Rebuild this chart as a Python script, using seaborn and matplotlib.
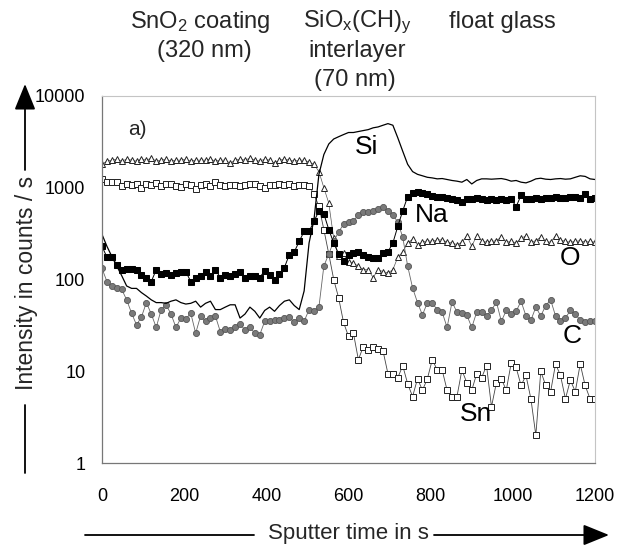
import numpy as np
import pandas as pd
import matplotlib
matplotlib.use("Agg")
import matplotlib.pyplot as plt
import seaborn as sns
from matplotlib.lines import Line2D
from matplotlib.ticker import FixedLocator, FixedFormatter, LogLocator, NullFormatter

# ---------------- data ----------------
time_s = np.arange(0, 1201, 12)

si = [310, 230, 178, 140, 110, 85, 80, 80, 72, 66,
      60, 56, 56, 55, 58, 60, 56, 54, 55, 58,
      50, 55, 58, 47, 47, 50, 53, 53, 38, 42,
      50, 45, 38, 46, 50, 45, 52, 58, 60, 52,
      47,
      75, 250, 450, 1400, 2300, 3000, 3400, 3600, 3800, 4000,
      4000, 4100, 4200, 4300, 4500, 4600, 4800, 5000, 4800, 3500,
      2500, 1800, 1500, 1400, 1350,
      1300, 1280, 1250, 1260, 1230, 1200, 1180, 1150, 1230, 1100,
      1200, 1250, 1250, 1240, 1250, 1260, 1230, 1180, 1200, 1150,
      1130, 1180, 1250, 1270, 1240, 1230, 1250, 1260, 1240, 1250,
      1300, 1350, 1330, 1250, 1230]

na = [230, 175, 175, 145, 128, 130, 130, 128, 113, 105,
      95, 128, 115, 118, 112, 118, 120, 122, 95, 105,
      108, 122, 108, 128, 105, 112, 110, 115, 120, 105,
      108, 108, 105, 125, 112, 100, 115, 135, 187, 200,
      260, 335, 335, 430, 560, 520, 350, 250, 190, 160,
      185, 195, 200, 185, 178, 172, 170, 195, 200, 250,
      380, 560, 800, 880, 900, 880, 850, 820, 800, 790,
      770, 760, 740, 700, 750, 760, 770, 750, 740, 760,
      740, 750, 730, 760, 620, 830, 760, 750, 770, 760,
      780, 770, 800, 780, 770, 800, 790, 780, 850, 760,
      780]

o = [1800, 1950, 2000, 2050, 1950, 2050, 2000, 1950, 2050, 2000,
     2100, 1950, 2000, 2050, 1950, 2000, 2000, 2050, 1950, 2000,
     2000, 2000, 2050, 1950, 2000, 2000, 1850, 2000, 2050, 2000,
     2100, 2000, 1950, 2050, 2000, 1850, 2000, 2050, 2000, 1950,
     2000,
     2000, 1900, 1800, 1500, 1000, 680,
     280, 180, 195, 155, 150, 140, 128, 128, 105, 128,
     122, 118, 128, 175, 200, 250, 275, 240, 255, 265,
     260, 270, 270, 255, 250, 240, 255, 300, 230, 300,
     265, 255, 260, 265, 290, 255, 260, 250, 280, 300,
     255, 265, 290, 260, 255, 300, 270, 260, 255, 260,
     265, 255, 260, 255]

c = [132, 95, 84, 80, 78, 60, 43, 32, 39, 56,
     42, 30, 47, 53, 42, 30, 38, 37, 43, 26,
     40, 35, 38, 40, 27, 29, 28, 30, 33, 28,
     30, 26, 25, 35, 35, 36, 36, 38, 39, 34,
     38, 35, 47, 45,
     50, 140, 190, 260, 330, 400, 420, 430, 510, 540,
     540, 560, 580, 610, 560, 510, 420, 290, 140, 81,
     56, 41, 56, 55, 47, 44, 30, 57, 44, 43,
     41, 30, 44, 44, 40, 46, 57, 35, 46, 42,
     45, 58, 40, 36, 50, 40, 52, 60, 40, 35,
     38, 46, 42, 36, 34, 35, 35]

sn = [1250, 1150, 1150, 1150, 1050, 1100, 1080, 1100, 1000, 1100,
      1080, 1120, 1050, 1100, 1100, 1050, 1020, 1100, 1080, 980,
      1080, 1100, 1050, 1150, 1080, 1050, 1080, 1060, 1050, 1080,
      1100, 1100, 1050, 1000, 1080, 1080, 1100, 1080, 1100, 1050,
      1080,
      1060, 1050, 850, 630, 350, 190, 100, 63, 34, 24,
      26, 13.4, 18.5, 17, 18.5, 17.6, 16.7, 9.4, 9.4, 8.5,
      11.5, 7.3, 5.3, 8.3, 6.2, 8.3, 13.4, 10.3, 10.3, 6.2,
      5.3, 5.3, 10.3, 7.5, 6.2, 9.4, 8.5, 11.5, 4.1, 7.5,
      8.3, 6.2, 12.3, 11, 7, 9, 5, 2, 10, 7,
      6, 12, 9, 5, 8, 6, 12, 7, 5, 5]

x_ticks = [0, 200, 400, 600, 800, 1000, 1200]
y_ticks = [1, 10, 100, 1000, 10000]
y_tick_labels = ["1", "10", "100", "1000", "10000"]

# ---------------- style ----------------
sns.set_style("white")
plt.rcParams['font.family'] = ['Liberation Sans', 'DejaVu Sans']
plt.rcParams['mathtext.fontset'] = 'custom'
plt.rcParams['mathtext.rm'] = 'Liberation Sans'
plt.rcParams['mathtext.it'] = 'Liberation Sans:italic'

W, H = 618, 546
fig = plt.figure(figsize=(W / 100, H / 100), dpi=100)
L, R, T, B = 102, 595, 96, 463
ax = fig.add_axes([L / W, 1 - B / H, (R - L) / W, (B - T) / H])

df = pd.DataFrame({"t": time_s, "Si": si, "Na": na, "O": o, "C": c, "Sn": sn})

sns.lineplot(data=df, x="t", y="Sn", ax=ax, color="#444444", lw=0.6,
             marker="s", markersize=4.6, markerfacecolor="white",
             markeredgecolor="#222222", markeredgewidth=0.7, estimator=None)
sns.lineplot(data=df, x="t", y="O", ax=ax, color="#555555", lw=0.5,
             marker="^", markersize=4.6, markerfacecolor="white",
             markeredgecolor="#222222", markeredgewidth=0.7, estimator=None)
sns.lineplot(data=df, x="t", y="C", ax=ax, color="#666666", lw=0.6,
             marker="o", markersize=4.4, markerfacecolor="#7a7a7a",
             markeredgecolor="#555555", markeredgewidth=0.6, estimator=None)
sns.lineplot(data=df, x="t", y="Na", ax=ax, color="black", lw=0.7,
             marker="s", markersize=3.8, markerfacecolor="black",
             markeredgecolor="black", estimator=None)
sns.lineplot(data=df, x="t", y="Si", ax=ax, color="black", lw=0.9,
             estimator=None)

ax.set_yscale("log")
ax.set_xlim(0, 1200)
ax.set_ylim(1, 10000)
ax.set_xlabel("")
ax.set_ylabel("")

ax.xaxis.set_major_locator(FixedLocator(x_ticks))
ax.xaxis.set_minor_locator(FixedLocator(list(range(100, 1200, 200))))
ax.yaxis.set_major_locator(FixedLocator(y_ticks))
ax.yaxis.set_major_formatter(FixedFormatter(y_tick_labels))
ax.yaxis.set_minor_locator(LogLocator(base=10, subs=np.arange(2, 10)))
ax.yaxis.set_minor_formatter(NullFormatter())

ax.tick_params(axis="both", which="major", direction="out", length=4,
               width=0.8, color="#777777", labelsize=13, labelcolor="black")
ax.tick_params(axis="x", which="major", pad=14)
ax.tick_params(axis="y", which="major", pad=8)
ax.tick_params(axis="both", which="minor", direction="out", length=3,
               width=0.6, color="#777777")

for side in ["left", "bottom"]:
    ax.spines[side].set_color("#777777")
    ax.spines[side].set_linewidth(0.9)
for side in ["top", "right"]:
    ax.spines[side].set_color("#c4c4c4")
    ax.spines[side].set_linewidth(0.8)

# labels on the curves
lab = dict(fontsize=19, ha="center", va="center", color="black")
ax.text(644, 2800, "Si", **lab)
ax.text(802, 500, "Na", **lab)
ax.text(1140, 170, "O", **lab)
ax.text(1144, 24, "C", **lab)
ax.text(910, 3.4, "Sn", **lab)
ax.text(86, 4300, "a)", fontsize=15, ha="center", va="center")

# header texts (figure pixels from top)
def fx(x):
    return x / W

def fy(y):
    return 1 - y / H

hdr = dict(fontsize=17, ha="center", va="center")
fig.text(fx(200), fy(22), "SnO$_\\mathregular{2}$ coating", **hdr)
fig.text(fx(204), fy(51), "(320 nm)", **hdr)
fig.text(fx(357), fy(22), "SiO$_\\mathregular{x}$(CH)$_\\mathregular{y}$", **hdr)
fig.text(fx(357), fy(51), "interlayer", **hdr)
fig.text(fx(355), fy(80), "(70 nm)", **hdr)
fig.text(fx(502), fy(22), "float glass", **hdr)

arrow_style = "-|>,head_length=1.6,head_width=0.65"

# y axis title with arrow
fig.text(fx(27), fy(283), "Intensity in counts / s", rotation=90,
         fontsize=16.5, ha="center", va="center")
ax.annotate("", xy=(25, H - 84), xytext=(25, H - 170), xycoords="figure pixels",
            textcoords="figure pixels",
            arrowprops=dict(arrowstyle=arrow_style, mutation_scale=10,
                            color="black", lw=1.3, shrinkA=0, shrinkB=0))
fig.add_artist(Line2D([fx(25), fx(25)], [fy(405), fy(473)], color="black", lw=1.3))

# x axis title with arrow
fig.text(fx(348), fy(533), "Sputter time in s", fontsize=16, ha="center", va="center")
fig.add_artist(Line2D([fx(85), fx(254)], [fy(535), fy(535)], color="black", lw=1.3))
ax.annotate("", xy=(609, H - 535), xytext=(434, H - 535), xycoords="figure pixels",
            textcoords="figure pixels",
            arrowprops=dict(arrowstyle=arrow_style, mutation_scale=10,
                            color="black", lw=1.3, shrinkA=0, shrinkB=0))

fig.savefig("out.png", dpi=100)
